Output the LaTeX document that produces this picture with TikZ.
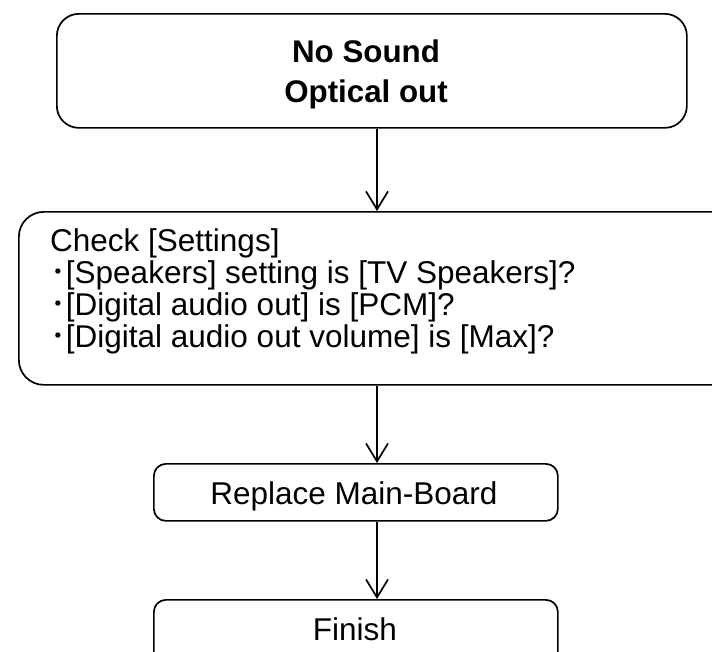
\documentclass[tikz,border=0pt]{standalone}
\usepackage{fontspec}
\setmainfont{Liberation Sans}
\newfontfamily\cjk{Noto Sans CJK JP}
\usetikzlibrary{arrows.meta}
\begin{document}
\begin{tikzpicture}[x=1pt,y=-1pt,
  box/.style={draw=black, line width=1.7pt, rectangle, inner sep=0pt, anchor=north west},
  txt/.style={inner sep=0pt, font=\fontsize{31.5}{32}\selectfont},
  bold/.style={txt, font=\fontsize{31.3}{32}\selectfont\bfseries},
  arr/.style={draw=black, line width=1.7pt, -{Straight Barb[length=18pt,width=22pt,line width=1.7pt]}}]
\useasboundingbox (0,0) rectangle (712,651);
\clip (0,0) rectangle (712,651);
\fill[white] (0,0) rectangle (712,651);
% boxes
\node[box, rounded corners=22pt, minimum width=630pt, minimum height=114pt] (start) at (56,13) {};
\node[box, rounded corners=25pt, minimum width=740pt, minimum height=173pt] (check) at (18,211) {};
\node[box, rounded corners=12pt, minimum width=404pt, minimum height=57pt] (repl) at (153,463) {};
\node[box, rounded corners=12pt, minimum width=404pt, minimum height=80pt] (fin) at (153,599) {};
% texts
\node[bold, anchor=base] (t1) at (366,62) {No Sound};
\node[bold, anchor=base] (t2) at (366,102) {Optical out};
\node[txt, anchor=base west] (c1) at (50,251) {Check [Settings]};
\node[txt, anchor=base west] (c2) at (50,283) {{\cjk ･}[Speakers] setting is [TV Speakers]?};
\node[txt, anchor=base west] (c3) at (50,315) {{\cjk ･}[Digital audio out] is [PCM]?};
\node[txt, anchor=base west] (c4) at (50,347) {{\cjk ･}[Digital audio out volume] is [Max]?};
\node[txt, anchor=base] (rt) at (354,504) {Replace Main-Board};
\node[txt, anchor=base] (ft) at (355,640) {Finish};
% connectors
\coordinate (ax) at (377,0);
\draw[arr] (start.south -| ax) -- (check.north -| ax);
\draw[arr] (check.south -| ax) -- (repl.north -| ax);
\draw[arr] (repl.south -| ax) -- (fin.north -| ax);
\end{tikzpicture}
\end{document}
